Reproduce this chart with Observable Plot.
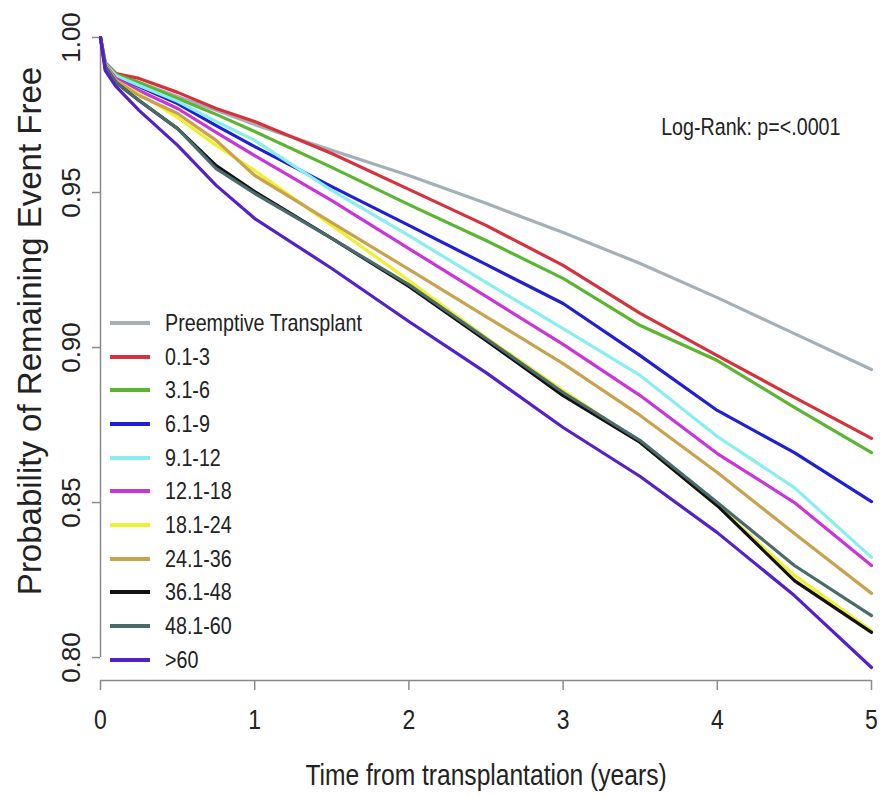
<!DOCTYPE html>
<html><head><meta charset="utf-8">
<script src="https://cdn.jsdelivr.net/npm/d3@7"></script>
<script src="https://cdn.jsdelivr.net/npm/@observablehq/plot@0.6"></script>
<style>
body{margin:0;background:#fff}
#wrap{position:relative;width:884px;height:796px}
#legend{position:absolute;left:110px;top:306px;font-family:"Liberation Sans",Arial,sans-serif;font-size:24px;color:#222}
.row{height:33.7px;display:flex;align-items:center;white-space:nowrap}
.sw{width:40px;height:4px;margin-right:15px;flex:none}
.row span{display:inline-block;transform:scaleX(0.82);transform-origin:left center}
</style>
</head><body><div id="wrap"></div>
<script>
const times = [0, 0.03, 0.1, 0.25, 0.5, 0.75, 1, 1.5, 2, 2.5, 3, 3.5, 4, 4.5, 5];
const groups = ["Preemptive Transplant","0.1-3","3.1-6","6.1-9","9.1-12","12.1-18","18.1-24","24.1-36","36.1-48","48.1-60",">60"];
const colors = ["#a3b0b8","#d6323c","#5cb531","#1f1fd6","#88eef0","#c935d8","#eef030","#c9a24e","#111111","#4b6b6b","#5420c8"];
const preemptive = [1, .9919, .9884, .9855, .9810, .9765, .9719, .9636, .9555, .9465, .9371, .9271, .9161, .9045, .8929];
const m0_3   = [1, .9919, .9884, .9868, .9823, .9771, .9729, .9626, .9510, .9394, .9265, .9110, .8974, .8839, .8707];
const m3_6   = [1, .9919, .9881, .9855, .9803, .9752, .9697, .9581, .9461, .9345, .9223, .9071, .8958, .8807, .8661];
const m6_9   = [1, .9916, .9874, .9842, .9787, .9716, .9648, .9519, .9394, .9268, .9142, .8974, .8797, .8661, .8503];
const m9_12  = [1, .9916, .9877, .9845, .9794, .9729, .9668, .9507, .9361, .9210, .9061, .8910, .8713, .8548, .8323];
const m12_18 = [1, .9913, .9868, .9829, .9771, .9694, .9619, .9474, .9319, .9165, .9010, .8845, .8658, .8500, .8297];
const m18_24 = [1, .9910, .9861, .9819, .9742, .9652, .9571, .9394, .9216, .9032, .8861, .8694, .8490, .8265, .8087];
const m24_36 = [1, .9910, .9861, .9813, .9755, .9668, .9555, .9403, .9252, .9100, .8948, .8781, .8597, .8400, .8207];
const m36_48 = [1, .9906, .9855, .9797, .9706, .9587, .9503, .9352, .9197, .9023, .8845, .8694, .8490, .8248, .8081];
const m48_60 = [1, .9906, .9855, .9797, .9706, .9577, .9497, .9352, .9203, .9029, .8855, .8700, .8500, .8297, .8135];
const m60    = [1, .9894, .9842, .9765, .9652, .9523, .9416, .9255, .9084, .8919, .8742, .8584, .8403, .8200, .7968];
const series = [preemptive, m0_3, m3_6, m6_9, m9_12, m12_18, m18_24, m24_36, m36_48, m48_60, m60];
const xTicks = [0, 1, 2, 3, 4, 5];
const yTicks = [0.80, 0.85, 0.90, 0.95, 1.00];

const rows = [];
series.forEach((vals, i) => vals.forEach((v, j) => rows.push({group: groups[i], t: times[j], s: v})));

const font = '"Liberation Sans",Arial,sans-serif';
const yMin = 0.7926;
const axisColor = "#8a8a8a";

const plot = Plot.plot({
  width: 884, height: 796,
  marginLeft: 100, marginRight: 13, marginTop: 37, marginBottom: 116,
  x: {domain: [0, 5]},
  y: {domain: [yMin, 1]},
  color: {domain: groups, range: colors},
  style: {background: "white"},
  marks: [
    Plot.axisX(xTicks, {tickSize: 10, tickFormat: () => "", label: null, stroke: axisColor, strokeWidth: 1.5}),
    Plot.axisY(yTicks, {tickSize: 8, tickFormat: () => "", label: null, stroke: axisColor, strokeWidth: 1.5}),
    Plot.ruleY([yMin], {x1: 0, x2: 5, stroke: axisColor, strokeWidth: 1.5}),
    Plot.ruleX([0], {y1: 0.8, y2: 1, stroke: axisColor, strokeWidth: 1.5}),
    Plot.line(rows, {x: "t", y: "s", z: "group", stroke: "group", strokeWidth: 3.2}),
    Plot.text(xTicks, {x: d => d, frameAnchor: "bottom", dy: 40, text: d => String(d), fontSize: 28, fontFamily: font, fill: "#222", lineAnchor: "middle", className: "nar"}),
    Plot.text(yTicks, {y: d => d, frameAnchor: "left", dx: -29, rotate: -90, text: d => d.toFixed(2), fontSize: 26, fontFamily: font, fill: "#222", textAnchor: "middle", lineAnchor: "middle"}),
    Plot.text(["Probability of Remaining Event Free"], {frameAnchor: "left", dx: -70, dy: -28, rotate: -90, fontSize: 33, fontFamily: font, fill: "#222", textAnchor: "middle", lineAnchor: "middle"}),
    Plot.text(["Time from transplantation (years)"], {frameAnchor: "bottom", dy: 95, fontSize: 30, fontFamily: font, fill: "#222", lineAnchor: "middle", className: "nar"}),
    Plot.text(["Log-Rank: p=<.0001"], {frameAnchor: "top-right", dx: -31, dy: 90, textAnchor: "end", lineAnchor: "middle", fontSize: 24, fontFamily: font, fill: "#222", className: "nar"})
  ]
});

// emulate a condensed face (Arial Narrow is not installed): squeeze horizontally about the anchor
plot.querySelectorAll("g.nar text").forEach(t => {
  let x = parseFloat(t.getAttribute("x"));
  if (!isFinite(x)) x = 0;
  const prev = t.getAttribute("transform") || "";
  t.setAttribute("transform", `${prev} translate(${x},0) scale(0.82,1) translate(${-x},0)`.trim());
});

const wrap = document.getElementById("wrap");
wrap.appendChild(plot);
const legend = document.createElement("div");
legend.id = "legend";
groups.forEach((g, i) => {
  const row = document.createElement("div");
  row.className = "row";
  const sw = document.createElement("div");
  sw.className = "sw";
  sw.style.background = colors[i];
  const lab = document.createElement("span");
  lab.textContent = g;
  row.appendChild(sw); row.appendChild(lab);
  legend.appendChild(row);
});
wrap.appendChild(legend);
</script>
</body></html>
